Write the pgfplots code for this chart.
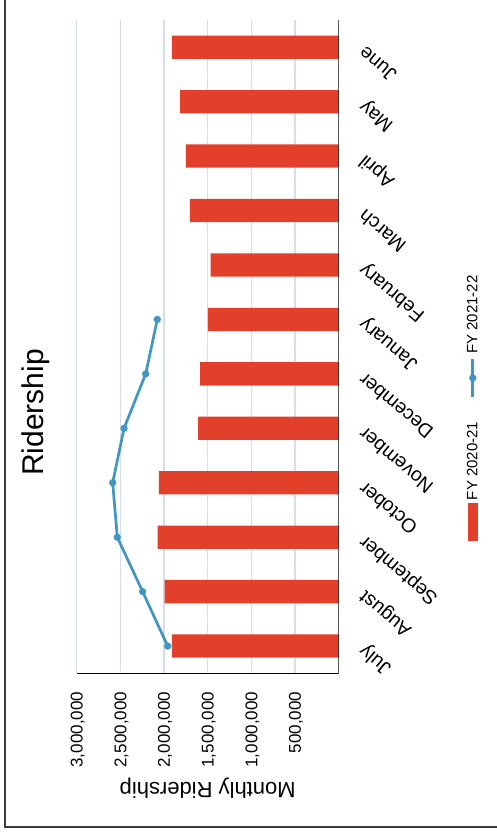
\documentclass[border=0pt]{standalone}
\usepackage{pgfplots}
\pgfplotsset{compat=1.18}
\usepackage{fontspec}
\setmainfont{Liberation Sans}
\definecolor{barred}{RGB}{226,64,43}
\definecolor{lineblue}{RGB}{62,150,193}
\definecolor{gridc}{RGB}{214,222,232}
\definecolor{framec}{RGB}{60,60,60}
\begin{document}
\begin{tikzpicture}
\path[use as bounding box] (0pt,0pt) rectangle (497pt,833pt);
\draw[framec, line width=1.8pt] (5pt,834pt) -- (5pt,6.3pt) -- (498pt,6.3pt);
\begin{axis}[
  at={(76.7pt,159.7pt)}, anchor=south west,
  scale only axis, width=262pt, height=653.3pt,
  x dir=reverse,
  xmin=0, xmax=3000000, ymin=-0.5, ymax=11.5,
  axis line style={draw=none},
  major tick length=0pt,
  xtick={500000,1000000,1500000,2000000,2500000,3000000},
  scaled x ticks=false,
  /pgf/number format/fixed,
  /pgf/number format/1000 sep={,},
  /pgf/number format/assume math mode=true,
  xmajorgrids, grid style={gridc, line width=1.3pt},
  xticklabel style={font=\fontsize{17}{20}\selectfont, rotate=90, anchor=east, inner sep=0pt, text depth=0pt},
  xticklabel shift=18.4pt,
  ytick={0,...,11},
  yticklabels={July,August,September,October,November,December,January,February,March,April,May,June},
  yticklabel pos=right,
  yticklabel style={font=\fontsize{19.5}{23}\selectfont, rotate=140, anchor=east, inner sep=0pt,
    text height=0.73em, text depth=0.21em},
  yticklabel shift=25.3pt,
  xlabel={Monthly Ridership},
  xlabel style={font=\fontsize{22}{26}\selectfont, rotate=180, anchor=center, at={(axis description cs:0.5,-0.1756)}},
]
\addplot[xbar, bar width=23.3pt, fill=barred, draw=none]
  coordinates {(1909000,0) (1993000,1) (2073000,2) (2058000,3) (1611000,4) (1588000,5)
               (1497000,6) (1466000,7) (1703000,8) (1749000,9) (1817000,10) (1909000,11)};
\addplot[lineblue, line width=2.7pt, mark=*, mark size=2.2pt, mark options={solid, fill=lineblue}]
  coordinates {(1958000,0) (2245000,1) (2535000,2) (2588000,3) (2458000,4) (2210000,5) (2077000,6)};
\draw[black, line width=1.3pt] (axis cs:0,11.5) -- (axis cs:0,-0.5) -- (axis cs:3000000,-0.5);
\end{axis}
\node[rotate=90, font=\fontsize{30}{36}\selectfont] at (36pt,420.5pt) {Ridership};
\begin{scope}[shift={(472.8pt,425pt)}, rotate=90, transform shape]
\begin{axis}[hide axis, scale only axis, width=10pt, height=10pt, at={(0pt,0pt)}, anchor=center,
  xmin=0, xmax=1, ymin=0, ymax=1,
  legend columns=-1,
  legend style={at={(0.5,0.5)}, anchor=center, draw=none, fill=none, inner sep=0pt,
    font=\fontsize{15}{18}\selectfont, nodes={inner sep=0pt},
    /tikz/every odd column/.append style={column sep=3.4pt},
    /tikz/every even column/.append style={column sep=23.4pt}}]
\addlegendimage{legend image code/.code={\fill[barred] (0pt,-4.2pt) rectangle (36.6pt,4.2pt);}}
\addlegendentry{FY 2020-21}
\addlegendimage{lineblue, line width=2.7pt, mark=*, mark size=2.2pt, mark options={solid, fill=lineblue},
  legend image code/.code={\draw[mark repeat=2, mark phase=2] plot coordinates {(0pt,0pt) (19pt,0pt) (38.3pt,0pt)};}}
\addlegendentry{FY 2021-22}
\end{axis}
\end{scope}
\end{tikzpicture}
\end{document}
